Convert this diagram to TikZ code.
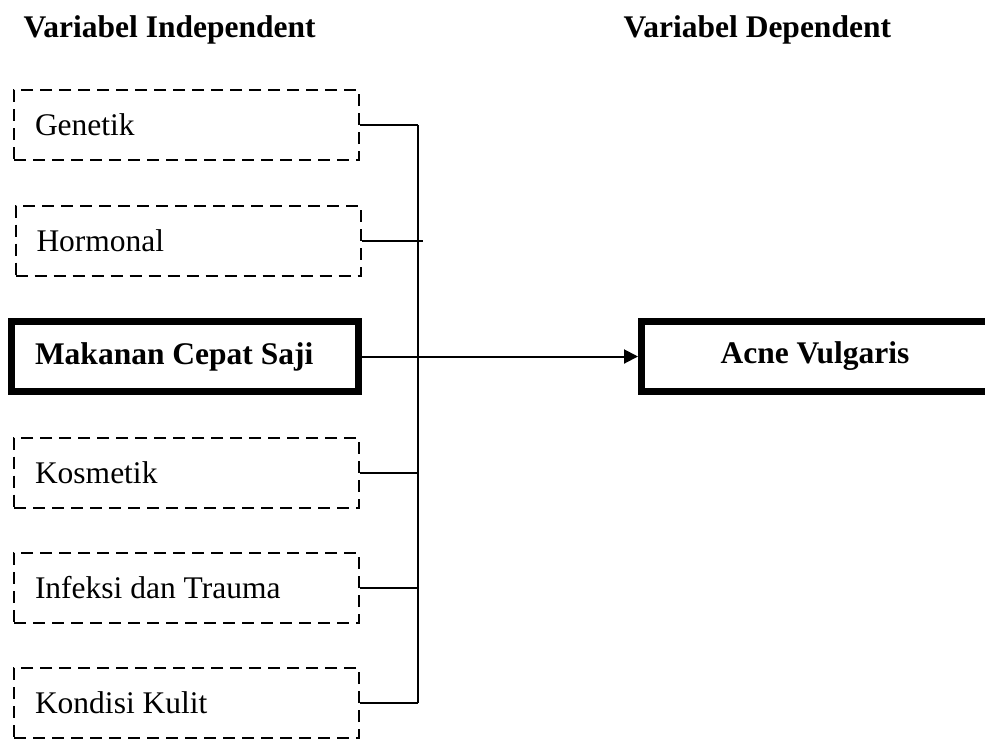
\documentclass[tikz,border=0pt]{standalone}
\usepackage{fontspec}
\setmainfont{Liberation Serif}
\usetikzlibrary{arrows.meta,positioning}

\begin{document}
\begin{tikzpicture}[x=1pt, y=-1pt,
  faktor/.style={draw, dash pattern=on 12pt off 7pt, line width=2pt,
                 minimum height=70pt, text width=303pt, inner xsep=21pt,
                 align=flush left, font=\fontsize{31.5}{36}\selectfont},
  utama/.style={draw, line width=7pt, minimum height=70pt, text width=300pt,
                inner xsep=23.5pt, font=\fontsize{31.5}{36}\selectfont\bfseries},
  judul/.style={anchor=west, font=\fontsize{31.5}{36}\selectfont\bfseries},
  garis/.style={line width=2pt},
  arr/.style={-{Triangle[length=14pt,width=14pt]}, line width=2pt}]
\useasboundingbox (0,0) rectangle (985,740);
\node[judul] (vi) at (20,30) {Variabel Independent};
\node[judul] (vd) at (620,30) {Variabel Dependent};
\node[faktor] (gen) at (186.5,125) {Genetik};
\node[faktor] (hor) at (188,240.5) {Hormonal};
\node[utama, align=flush left] (mcs) at (185,356.5) {Makanan Cepat Saji};
\node[faktor] (kos) at (186.5,472.5) {Kosmetik};
\node[faktor] (inf) at (186.5,588) {Infeksi dan Trauma};
\node[faktor] (kon) at (186.5,703) {Kondisi Kulit};
\node[utama, align=flush center] (acne) at (815,356.5) {Acne Vulgaris};
\coordinate (tulang) at (418,0);
\foreach \n in {gen,kos,inf,kon} \draw[garis] (\n.east) -- (\n.east -| tulang);
\draw[garis] (hor.east) -- ([xshift=5pt]hor.east -| tulang);
\draw[garis] (gen.east -| tulang) -- (kon.east -| tulang);
\draw[arr] (mcs.east) -- (acne.west);
\end{tikzpicture}
\end{document}
